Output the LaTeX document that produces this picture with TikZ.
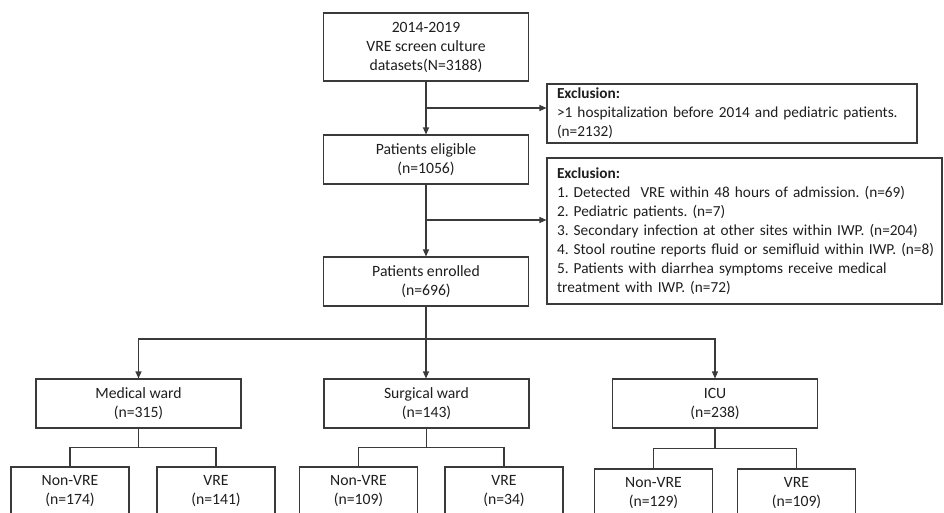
\documentclass[tikz,border=0pt]{standalone}
\usepackage{fontspec}
\setmainfont{Carlito}
\usetikzlibrary{arrows.meta}
\definecolor{boxline}{HTML}{3A3A3A}
\definecolor{boxtext}{HTML}{1E1E1E}
\frenchspacing
\begin{document}
\begin{tikzpicture}
  [x=1pt,y=-1pt,>={Triangle[length=7pt,width=6pt]},
   every node/.style={draw=boxline,line width=1.1pt,rectangle,text=boxtext,
     font=\fontsize{15.7}{19}\selectfont,inner sep=0pt,align=center},
   flowbox/.style={minimum width=205pt,minimum height=49pt},
   groupbox/.style={minimum width=118pt,minimum height=49pt},
   exclbox/.style={align=left,inner xsep=10pt,font=\fontsize{15.3}{19}\selectfont}]
\useasboundingbox (0,0) rectangle (944,512);

\node (src)[flowbox,minimum height=68pt] at (426,47) {2014-2019\\VRE screen culture\\datasets(N=3188)};
  \node (elig)[flowbox] at (426,159.5) {Patients eligible\\(n=1056)};
  \node (enrol)[flowbox] at (426,281.5) {Patients enrolled\\(n=696)};

  \node (ex1)[exclbox,minimum width=370pt,minimum height=59pt,text width=350pt] at (732,113.5)
    {\textbf{Exclusion:}\\\mbox{>1 hospitalization before 2014 and pediatric patients.}\\(n=2132)};
  \node (ex2)[exclbox,minimum width=395pt,minimum height=146pt,text width=375pt] at (744.5,231)
    {\textbf{Exclusion:}\\%
     \mbox{1. Detected \ VRE within 48 hours of admission. (n=69)}\\%
     \mbox{2. Pediatric patients. (n=7)}\\%
     \mbox{3. Secondary infection at other sites within IWP. (n=204)}\\%
     \mbox{4. Stool routine reports fluid or semifluid within IWP. (n=8)}\\%
     \mbox{5. Patients with diarrhea symptoms receive medical}\\%
     \mbox{treatment with IWP. (n=72)}};

  \node (med)[flowbox] at (138.5,403.5) {Medical ward\\(n=315)};
  \node (surg)[flowbox] at (426.5,403.5) {Surgical ward\\(n=143)};
  \node (icu)[flowbox] at (715,403.5) {ICU\\(n=238)};

  \node (medn)[groupbox] at (70,491.5) {Non-VRE\\(n=174)};
  \node (medv)[groupbox] at (216,491.5) {VRE\\(n=141)};
  \node (surgn)[groupbox] at (358.5,491.5) {Non-VRE\\(n=109)};
  \node (surgv)[groupbox] at (504,491.5) {VRE\\(n=34)};
  \node (icun)[groupbox] at (653.5,493.5) {Non-VRE\\(n=129)};
  \node (icuv)[groupbox] at (796.5,493.5) {VRE\\(n=109)};

  \coordinate (b1) at (426,108);
  \coordinate (b2) at (426,220);
  \coordinate (split) at (426,339);

 \path [line width=1.1pt,boxline] (src) edge [->] (elig);
 \path [line width=1.1pt,boxline] (elig) edge [->] (enrol);
 \draw [line width=1.1pt,boxline,->] (b1) -- (b1 -| ex1.west);
 \draw [line width=1.1pt,boxline,->] (b2) -- (b2 -| ex2.west);

 \draw [line width=1.1pt,boxline] (enrol.south) -- (split);
 \draw [line width=1.1pt,boxline,->] (split) -| (med.north);
 \draw [line width=1.1pt,boxline,->] (split) -| (icu.north);
 \path [line width=1.1pt,boxline] (split) edge [->] (split |- surg.north);

 % ward to VRE groups
 \draw [line width=1.1pt,boxline] (med.south) -- ++(0,19) -| (medn.north);
 \draw [line width=1.1pt,boxline] (med.south) ++(0,19) -| (medv.north);
 \draw [line width=1.1pt,boxline] (surg.south) -- ++(0,19) -| (surgn.north);
 \draw [line width=1.1pt,boxline] (surg.south) ++(0,19) -| (surgv.north);
 \draw [line width=1.1pt,boxline] (icu.south) -- ++(0,20) -| (icun.north);
 \draw [line width=1.1pt,boxline] (icu.south) ++(0,20) -| (icuv.north);
;
\end{tikzpicture}
\end{document}
